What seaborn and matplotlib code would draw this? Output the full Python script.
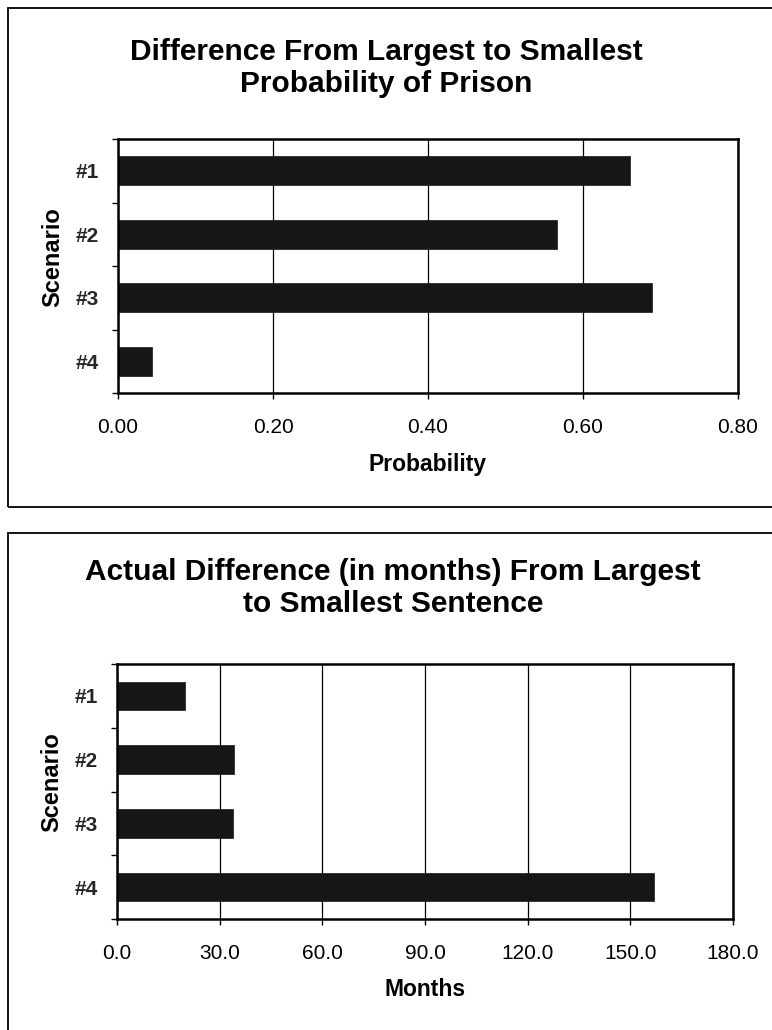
import matplotlib
matplotlib.use("Agg")
import matplotlib.pyplot as plt
import seaborn as sns
import pandas as pd
from matplotlib.patches import Rectangle
from matplotlib.ticker import FormatStrFormatter

# Scenario labels and the two measured differences
scenarios = ["#1", "#2", "#3", "#4"]
prob_diff = [0.661, 0.567, 0.689, 0.044]
month_diff = [19.8, 34.2, 33.9, 157.0]
prob_ticks = [0.0, 0.2, 0.4, 0.6, 0.8]
month_ticks = [0, 30, 60, 90, 120, 150, 180]

sns.set_theme(style="white")
plt.rcParams["font.family"] = ["Liberation Sans", "DejaVu Sans"]

W, H = 772, 1030
fig = plt.figure(figsize=(W / 100, H / 100), dpi=100)
fig.patch.set_facecolor("white")


def fx(px):
    return px / W


def fy(py):
    return 1 - py / H


# panel frames
for top, bottom in [(8, 507), (533, 1045)]:
    fig.patches.append(Rectangle((fx(8), fy(bottom)), fx(790) - fx(8), fy(top) - fy(bottom),
                                 transform=fig.transFigure, fill=False,
                                 edgecolor="black", linewidth=1.3))

ax1 = fig.add_axes([fx(118), fy(393), fx(738) - fx(118), fy(139) - fy(393)])
ax2 = fig.add_axes([fx(117), fy(919), fx(733) - fx(117), fy(664) - fy(919)])

BAR = "#161616"


def draw(ax, values, ticks, fmt, xlabel, label_y):
    df = pd.DataFrame({"Scenario": scenarios, "value": values})
    sns.barplot(data=df, x="value", y="Scenario", orient="h", color=BAR,
                saturation=1, width=0.45, edgecolor=BAR, linewidth=0.5, ax=ax)
    ax.set_xlim(ticks[0], ticks[-1])
    ax.set_ylim(3.5, -0.5)
    ax.set_xticks(ticks)
    ax.xaxis.set_major_formatter(FormatStrFormatter(fmt))
    ax.grid(axis="x", color="black", linewidth=0.9)
    ax.grid(axis="y", visible=False)
    ax.set_axisbelow(True)
    for s in ax.spines.values():
        s.set_visible(True)
        s.set_color("black")
        s.set_linewidth(1.8)
    ax.tick_params(axis="x", which="major", direction="out", length=4, width=1,
                   color="black", labelsize=15, pad=14, bottom=True)
    ax.tick_params(axis="y", which="major", length=0, pad=14, labelsize=15)
    ax.set_yticks([-0.5, 0.5, 1.5, 2.5, 3.5], minor=True)
    ax.tick_params(axis="y", which="minor", direction="out", length=4.5, width=1,
                   color="black", left=True)
    for t in ax.get_yticklabels():
        t.set_fontweight("bold")
    for t in ax.get_xticklabels():
        t.set_color("black")
    ax.set_xlabel(xlabel, fontsize=16.5, fontweight="bold", color="black")
    ax.xaxis.label.set_va("center")
    ax.xaxis.set_label_coords(0.5, label_y)
    ax.set_ylabel("Scenario", fontsize=17, fontweight="bold", color="black")
    ax.yaxis.label.set_va("center")
    ax.yaxis.set_label_coords(-0.106, 0.535)


draw(ax1, prob_diff, prob_ticks, "%.2f", "Probability", (393 - 465) / 254)
draw(ax2, month_diff, month_ticks, "%.1f", "Months", (919 - 990) / 255)

fig.text(fx(386), fy(68), "Difference From Largest to Smallest\nProbability of Prison",
         ha="center", va="center", fontsize=21.5, fontweight="bold",
         linespacing=1.15, color="black")
fig.text(fx(393), fy(588), "Actual Difference (in months) From Largest\nto Smallest Sentence",
         ha="center", va="center", fontsize=21.5, fontweight="bold",
         linespacing=1.15, color="black")

fig.savefig("out.png", dpi=100, facecolor="white")
